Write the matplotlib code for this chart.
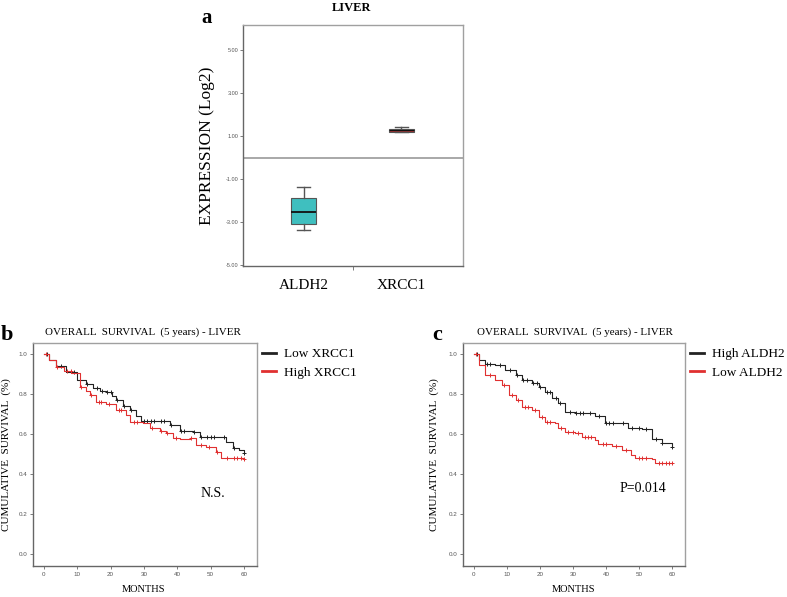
import numpy as np
import matplotlib
matplotlib.use("Agg")
import matplotlib.pyplot as plt

# ---- data ----
genes = ["ALDH2", "XRCC1"]
box_stats = [  # whislo, q1, med, q3, whishi
    [-3.37, -3.09, -2.53, -1.88, -1.37],
    [1.17, 1.20, 1.28, 1.35, 1.40],
]
box_colors = ["#3fbfbf", "#9a3030"]
expr_ticks = [-5, -3, -1, 1, 3, 5]

months_ticks = [0, 10, 20, 30, 40, 50, 60]
surv_ticks = [0.0, 0.2, 0.4, 0.6, 0.8, 1.0]

# panel b: XRCC1
b_low_t = [0, 1.5, 3.5, 6.7, 10, 12.5, 14.7, 16.7, 18.7, 20.5, 21.7, 23.7, 25.7, 27.7, 29.2,
           34.7, 37.7, 40.7, 44.7, 46.7, 52.7, 54.7, 56.7, 58.5, 60]
b_low_s = [1.0, 0.97, 0.94, 0.91, 0.87, 0.85, 0.83, 0.815, 0.81, 0.79, 0.77, 0.74, 0.72, 0.69, 0.667,
           0.667, 0.645, 0.615, 0.61, 0.587, 0.583, 0.56, 0.53, 0.52, 0.507]
b_high_t = [0, 1.5, 3.7, 6, 8.2, 10.7, 12.5, 13.7, 15.7, 18.7, 21.7, 24.7, 25.7, 29.7, 31.7,
            34.7, 36.7, 38.7, 40.7, 43.7, 45.7, 48.7, 51.7, 53.2, 60]
b_high_s = [1.0, 0.97, 0.937, 0.915, 0.903, 0.837, 0.815, 0.795, 0.762, 0.75, 0.72, 0.695, 0.66, 0.653, 0.628,
            0.615, 0.607, 0.578, 0.573, 0.578, 0.545, 0.533, 0.512, 0.478, 0.475]
b_low_cens = [1, 5, 9, 13, 16, 17.5, 19, 20, 22, 24, 26, 30, 31, 32, 33, 35, 36, 38, 41, 42, 45, 47,
              49, 50, 51, 54, 57, 60]
b_high_cens = [0.5, 4, 7, 8, 11, 14, 16.5, 17, 19.5, 22.5, 23, 27, 28, 32.5, 35, 37, 39.5, 44,
               47, 49.5, 52, 55, 57, 58, 59, 60]

# panel c: ALDH2
c_high_t = [0, 1.5, 3.5, 6.5, 9.5, 12.6, 14.6, 17.6, 19.6, 21.6, 23.6, 25.6, 27.6, 30.7,
            34.7, 36.7, 39.7, 43.7, 46.7, 50.8, 53.8, 56.8, 60]
c_high_s = [1.0, 0.97, 0.95, 0.945, 0.92, 0.895, 0.87, 0.857, 0.833, 0.81, 0.778, 0.753, 0.712, 0.707,
            0.707, 0.69, 0.653, 0.653, 0.628, 0.623, 0.573, 0.557, 0.537]
c_low_t = [0, 1.5, 3.5, 6.5, 8.5, 10.6, 12.6, 14.6, 17.6, 19.6, 21.6, 24.6, 25.6, 27.6, 30.7,
           32.7, 36.7, 37.7, 41.7, 44.7, 47.7, 48.7, 53.8, 54.8, 60]
c_low_s = [1.0, 0.945, 0.895, 0.87, 0.845, 0.795, 0.77, 0.737, 0.72, 0.687, 0.662, 0.657, 0.628, 0.612, 0.603,
           0.583, 0.57, 0.55, 0.54, 0.52, 0.495, 0.478, 0.473, 0.457, 0.453]
c_high_cens = [1, 4, 5, 8, 11, 13, 15, 16, 18, 19, 20, 22, 23, 25, 26, 29, 31, 32, 33, 35, 38,
               40, 41, 42, 45, 48, 50, 52, 55, 57, 60]
c_low_cens = [0.5, 5, 9, 11.5, 13.5, 15.5, 16.5, 18.5, 20.5, 22, 23, 26.5, 28.5, 30, 31.5, 33.5,
              34.5, 35.5, 39, 40, 43, 46, 50, 51, 52, 56, 57, 58, 59, 60]

SERIF = ["Liberation Serif", "DejaVu Serif"]
SANS = ["Liberation Sans", "DejaVu Sans"]
TICK_C = "#555555"

fig = plt.figure(figsize=(7.87, 5.97), dpi=100)


def frame(ax):
    for side in ["left", "bottom"]:
        ax.spines[side].set_color("#666666")
    for side in ["top", "right"]:
        ax.spines[side].set_color("#a0a0a0")
    for s in ax.spines.values():
        s.set_linewidth(1.0)


# ---- panel a ----
axa = fig.add_axes([0.3088, 0.554, 0.2795, 0.404])
stats = []
for g, (lo, q1, med, q3, hi) in zip(genes, box_stats):
    stats.append(dict(label=g, whislo=lo, q1=q1, med=med, q3=q3, whishi=hi, fliers=[]))
bp = axa.bxp(stats, positions=[1, 2], widths=0.26, patch_artist=True, showfliers=False,
             medianprops=dict(color="#111111", linewidth=1.3),
             whiskerprops=dict(color="#555555", linewidth=1.0),
             capprops=dict(color="#555555", linewidth=1.0),
             boxprops=dict(edgecolor="#555555", linewidth=0.8))
for patch, col in zip(bp["boxes"], box_colors):
    patch.set_facecolor(col)
bp["medians"][1].set_linewidth(0.8)
for cap in bp["caps"]:
    x = cap.get_xdata()
    m = x.mean()
    cap.set_xdata([m - 0.065, m + 0.065])
axa.axhline(0, color="#999999", linewidth=1.2)
axa.set_xlim(0.38, 2.63)
axa.set_ylim(-5.05, 6.16)
axa.set_yticks(expr_ticks)
axa.set_yticklabels(["%.2f" % v for v in expr_ticks], fontsize=4, color=TICK_C, family=SANS)
axa.set_xticks([1, 2])
axa.set_xticklabels(genes, fontsize=11, family=SERIF)
axa.tick_params(axis="x", length=0, pad=9)
axa.set_xticks([1.5], minor=True)
axa.tick_params(axis="x", which="minor", length=3, color="#666666")
axa.tick_params(axis="y", length=2, width=0.6, color="#666666", pad=1)
axa.set_ylabel("EXPRESSION (Log2)", fontsize=12.5, family=SERIF, labelpad=8)
frame(axa)
fig.text(352 / 787, 1 - 8 / 597, "LIVER", fontsize=9, family=SERIF, fontweight="bold",
         ha="center", va="center")
fig.text(207 / 787, 1 - 18 / 597, "a", fontsize=15, family=SERIF, fontweight="bold",
         ha="center", va="center")


def step_at(ts, ss, x):
    i = np.searchsorted(ts, x, side="right") - 1
    return np.array(ss)[i]


def km_panel(rect, curves, leg_labels, note, note_xy, letter, letter_x, title_x, ylab_x):
    ax = fig.add_axes(rect)
    for (t, s, cens, col) in curves:
        ax.step(t, s, where="post", color=col, linewidth=0.8)
        ax.plot(cens, step_at(t, s, cens), "+", color=col, markersize=3, markeredgewidth=0.7)
    ax.set_xlim(-3.3, 63.9)
    ax.set_ylim(-0.06, 1.055)
    ax.set_xticks(months_ticks)
    ax.set_xticklabels([str(v) for v in months_ticks], fontsize=4.5, color=TICK_C, family=SANS)
    ax.set_yticks(surv_ticks)
    ax.set_yticklabels(["%.1f" % v for v in surv_ticks], fontsize=4.5, color=TICK_C, family=SANS)
    ax.tick_params(length=2, width=0.6, color="#666666", pad=2)
    frame(ax)
    ax.text(note_xy[0], note_xy[1], note, fontsize=10, family=SERIF, ha="center", va="center")
    ax.yaxis.set_label_coords(ylab_x, 0.45)
    ax.set_ylabel("CUMULATIVE  SURVIVAL  (%)", fontsize=8, family=SERIF)
    x0 = rect[0] + rect[2] * (30 + 3.3) / 67.2
    fig.text(x0, 1 - 590 / 597, "MONTHS", fontsize=7.5, family=SERIF, ha="center", va="center")
    fig.text(title_x / 787, 1 - 332 / 597, "OVERALL  SURVIVAL  (5 years) - LIVER", fontsize=7.9,
             family=SERIF, ha="center", va="center")
    fig.text(letter_x / 787, 1 - 335 / 597, letter, fontsize=16, family=SERIF,
             fontweight="bold", ha="center", va="center")
    handles = [plt.Line2D([], [], color=c[3], linewidth=2) for c in curves]
    ax.legend(handles, leg_labels, loc="upper left", bbox_to_anchor=(1.022, 0.978),
              frameon=False, prop=dict(family=SERIF, size=9.5), handlelength=1.05,
              handletextpad=0.6, borderaxespad=0, borderpad=0, labelspacing=0.5)
    return ax


km_panel([0.0419, 0.0519, 0.2846, 0.3736],
         [(b_low_t, b_low_s, b_low_cens, "#222222"), (b_high_t, b_high_s, b_high_cens, "#e03030")],
         ["Low XRCC1", "High XRCC1"], "N.S.", (50.7, 0.305), "b", 7, 143, -0.1)
km_panel([0.5883, 0.0519, 0.2821, 0.3736],
         [(c_high_t, c_high_s, c_high_cens, "#222222"), (c_low_t, c_low_s, c_low_cens, "#e03030")],
         ["High ALDH2", "Low ALDH2"], "P=0.014", (51.2, 0.33), "c", 437, 575, -0.11)

fig.savefig("out.png", dpi=100)
